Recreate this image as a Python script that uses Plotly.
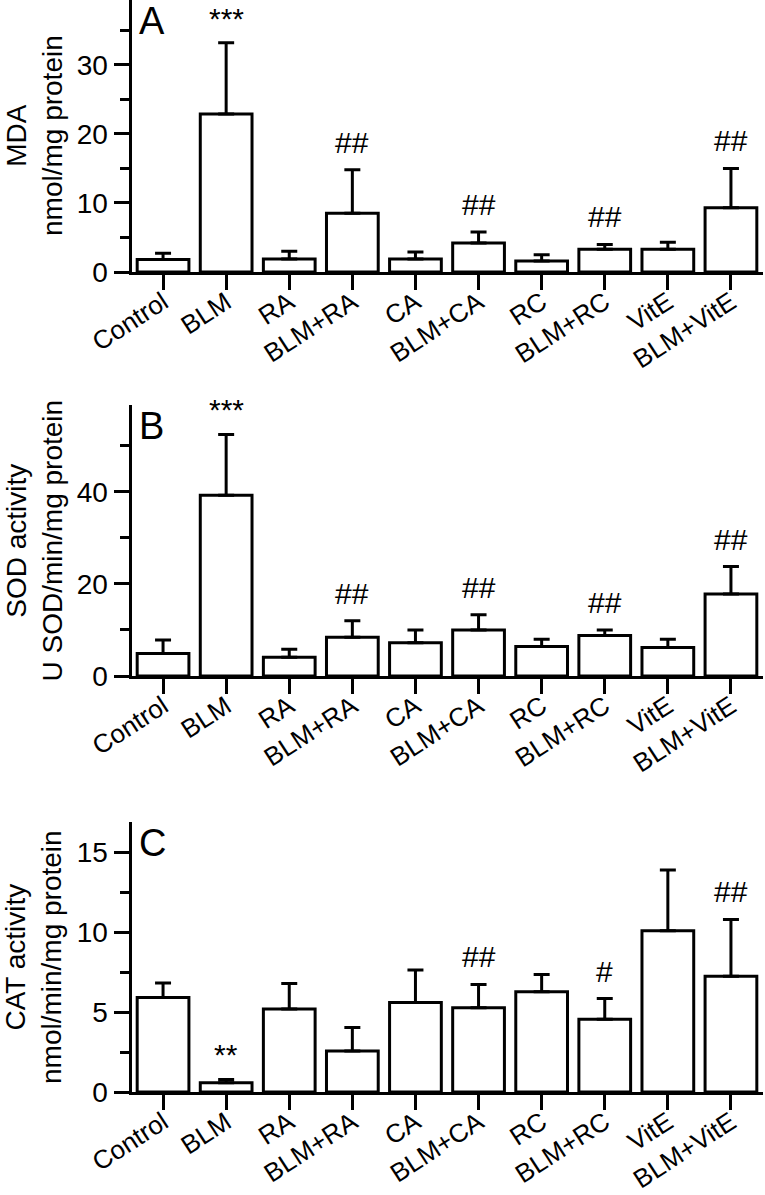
import plotly.graph_objects as go

categories = ["Control", "BLM", "RA", "BLM+RA", "CA", "BLM+CA", "RC", "BLM+RC", "VitE", "BLM+VitE"]

# Panel A: MDA (nmol/mg protein)
mda_mean = [1.8, 22.9, 1.9, 8.5, 1.9, 4.2, 1.6, 3.3, 3.3, 9.3]
mda_top = [2.7, 33.2, 3.0, 14.8, 2.9, 5.8, 2.5, 4.0, 4.3, 15.0]
mda_sig = ["", "***", "", "##", "", "##", "", "##", "", "##"]

# Panel B: SOD activity (U SOD/min/mg protein)
sod_mean = [4.9, 39.3, 4.1, 8.4, 7.2, 10.0, 6.4, 8.8, 6.2, 17.8]
sod_top = [7.8, 52.5, 5.8, 12.0, 10.0, 13.3, 8.0, 10.0, 8.0, 23.8]
sod_sig = ["", "***", "", "##", "", "##", "", "##", "", "##"]

# Panel C: CAT activity (nmol/min/mg protein)
cat_mean = [5.92, 0.58, 5.19, 2.56, 5.6, 5.27, 6.27, 4.56, 10.1, 7.25]
cat_top = [6.83, 0.79, 6.79, 4.04, 7.63, 6.73, 7.35, 5.85, 13.9, 10.8]
cat_sig = ["", "**", "", "", "", "##", "", "#", "", "##"]

W, H = 765, 1195
FONT = "Liberation Sans, Arial, sans-serif"

panels = [
    dict(mean=mda_mean, top=mda_top, sig=mda_sig, label="A",
         title="MDA<br>nmol/mg protein", px=(0, 272), rng=[0, 39.4],
         tickvals=[0, 10, 20, 30], minor=5),
    dict(mean=sod_mean, top=sod_top, sig=sod_sig, label="B",
         title="SOD activity<br>U SOD/min/mg protein", px=(405, 676), rng=[0, 58.9],
         tickvals=[0, 20, 40], minor=10),
    dict(mean=cat_mean, top=cat_top, sig=cat_sig, label="C",
         title="CAT activity<br>nmol/min/mg protein", px=(822, 1092), rng=[0, 16.9],
         tickvals=[0, 5, 10, 15], minor=2.5),
]

x0_px, x1_px = 131.5, 762.5

fig = go.Figure()
annotations = []
for i, p in enumerate(panels):
    n = "" if i == 0 else str(i + 1)
    err = [t - m for t, m in zip(p["top"], p["mean"])]
    fig.add_trace(go.Bar(
        x=categories, y=p["mean"], xaxis="x" + n, yaxis="y" + n,
        width=0.82,
        marker=dict(color="white", line=dict(color="black", width=3)),
        error_y=dict(type="data", array=err, arrayminus=[0] * len(err),
                     symmetric=False, thickness=3, width=8, color="black"),
        showlegend=False,
    ))
    top_px, bot_px = p["px"]
    dom = [1 - bot_px / H, 1 - top_px / H]
    fig.update_layout(**{
        "xaxis" + n: dict(
            domain=[x0_px / W, x1_px / W], anchor="y" + n,
            showline=True, linewidth=3, linecolor="black",
            ticks="outside", ticklen=15, tickwidth=3, tickcolor="black",
            tickangle=-33, ticklabelstandoff=-13,
            tickfont=dict(size=26, color="black", family=FONT),
            showgrid=False, zeroline=False, automargin=False,
            range=[-0.5, 9.5], fixedrange=True,
        ),
        "yaxis" + n: dict(
            domain=dom, anchor="x" + n, range=p["rng"],
            showline=True, linewidth=3, linecolor="black",
            ticks="outside", ticklen=15, tickwidth=3, tickcolor="black",
            tickvals=p["tickvals"],
            tickfont=dict(size=28, color="black", family=FONT),
            minor=dict(dtick=p["minor"], tick0=0, ticks="outside", ticklen=9,
                       tickwidth=3, tickcolor="black", showgrid=False),
            showgrid=False, zeroline=False, automargin=False, fixedrange=True,
        ),
    })
    # significance marks
    for c, t, s in zip(categories, p["top"], p["sig"]):
        if s:
            annotations.append(dict(
                x=c, y=t, xref="x" + n, yref="y" + n, text=s, showarrow=False,
                yanchor="bottom", xanchor="center",
                yshift=(6 if "*" in s else 9),
                font=dict(size=30, color="black", family=FONT),
            ))
    # panel letter
    annotations.append(dict(
        x=137 / W, y=1 - (top_px - 2) / H, xref="paper", yref="paper",
        text=p["label"], showarrow=False, xanchor="left", yanchor="top",
        font=dict(size=38, color="black", family=FONT),
    ))
    # y-axis title
    annotations.append(dict(
        x=34 / W, y=(dom[0] + dom[1]) / 2, xref="paper", yref="paper",
        text=p["title"], showarrow=False, textangle=-90,
        xanchor="center", yanchor="middle",
        font=dict(size=28, color="black", family=FONT),
    ))

fig.update_layout(
    width=W, height=H,
    margin=dict(l=0, r=0, t=0, b=0),
    paper_bgcolor="white", plot_bgcolor="white",
    annotations=annotations,
    font=dict(family=FONT, color="black"),
)

fig.write_html("out.html", config={"displayModeBar": False},
               post_script="document.body.style.margin='0';")
